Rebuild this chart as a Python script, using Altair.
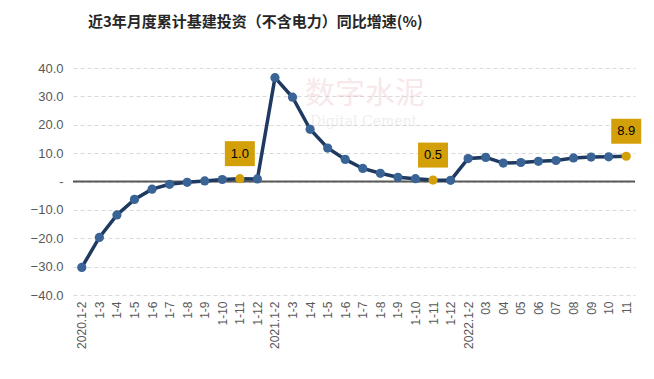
import altair as alt
import pandas as pd

labels = ["2020.1-2", "1-3", "1-4", "1-5", "1-6", "1-7", "1-8", "1-9", "1-10", "1-11", "1-12",
          "2021.1-2", "1-3", "1-4", "1-5", "1-6", "1-7", "1-8", "1-9", "1-10", "1-11", "1-12",
          "2022.1-2", "03", "04", "05", "06", "07", "08", "09", "10", "11"]
values = [-30.3, -19.7, -11.8, -6.3, -2.7, -1.0, -0.3, 0.2, 0.7, 1.0, 0.9,
          36.6, 29.7, 18.4, 11.8, 7.8, 4.6, 2.9, 1.5, 1.0, 0.5, 0.4,
          8.1, 8.5, 6.5, 6.7, 7.1, 7.4, 8.3, 8.6, 8.7, 8.9]
highlight_idx = [9, 20, 31]
y_ticks = [-40, -30, -20, -10, 0, 10, 20, 30, 40]

df = pd.DataFrame({"idx": list(range(len(values))), "v": values})
df["hl"] = df["idx"].isin(highlight_idx)
hl = df[df["hl"]].copy()
hl["txt"] = hl["v"].map(lambda x: f"{x:.1f}")

label_js = "[" + ",".join(f"'{l}'" for l in labels) + "]"

GOLD = "#D4A00A"
NAVY = "#1F3A60"
BLUE = "#3A6396"

xenc = alt.X("idx:O", scale=alt.Scale(type="point", padding=0.5),
             axis=alt.Axis(title=None, labelExpr=label_js + "[datum.value]", labelAngle=270,
                           labelFont="Liberation Sans", labelFontSize=12, labelColor="#595959",
                           domain=False, ticks=False, labelPadding=6, grid=False,
                           labelOverlap=False))
yaxis = alt.Axis(title=None, values=y_ticks,
                 labelExpr="datum.value == 0 ? '-' : format(datum.value, '.1f')",
                 labelFont="Liberation Sans", labelFontSize=13, labelColor="#595959",
                 domain=False, ticks=False, labelPadding=10, labelOverlap=False,
                 gridDash=[4, 3], gridColor="#D9D9D9", gridWidth=1)
yscale = alt.Scale(domain=[-40, 40], nice=False)
yenc = alt.Y("v:Q", scale=yscale, axis=yaxis)

base = alt.Chart(df)

watermark1 = alt.Chart(pd.DataFrame({"t": ["数字水泥"]})).mark_text(
    font="Noto Sans CJK SC", fontSize=30, color="#E8B4BC", opacity=0.3, align="left"
).encode(x=alt.value(232), y=alt.value(26), text="t:N")
watermark2 = alt.Chart(pd.DataFrame({"t": ["Digital Cement"]})).mark_text(
    font="DejaVu Serif", fontSize=14, color="#C8C8C8", opacity=0.3, align="left"
).encode(x=alt.value(237), y=alt.value(54), text="t:N")

zero = base.transform_filter("datum.idx == 0").transform_calculate(v="0").mark_rule(
    color="#595959", strokeWidth=2).encode(y=yenc)

line = base.mark_line(color=NAVY, strokeWidth=3.5).encode(x=xenc, y=yenc)
pts = base.mark_circle(size=85, opacity=1).encode(
    x=xenc, y=yenc,
    color=alt.Color("hl:N", scale=alt.Scale(domain=[False, True], range=[BLUE, GOLD]), legend=None))

boxes = alt.Chart(hl).mark_rect(width=30, height=25, yOffset=-25, color=GOLD).encode(x=xenc, y=yenc)
texts = alt.Chart(hl).mark_text(dy=-25, font="Liberation Sans", fontSize=13, color="#000000").encode(
    x=xenc, y=yenc, text="txt:N")

chart = alt.layer(watermark1, watermark2, zero, line, pts, boxes, texts).properties(
    width=562, height=227,
    autosize=alt.AutoSizeParams(type="none"),
    padding={"left": 65, "top": 60, "right": 10, "bottom": 80},
    title=alt.TitleParams("近3年月度累计基建投资（不含电力）同比增速(%)", anchor="start", frame="group",
                          dx=15, offset=32,
                          font="Noto Sans CJK SC", fontSize=15, fontWeight="bold", color="#262626")
).configure_view(stroke=None).configure_axis(grid=True)

chart.save("out.html", embed_options={"renderer": "svg", "actions": False})
